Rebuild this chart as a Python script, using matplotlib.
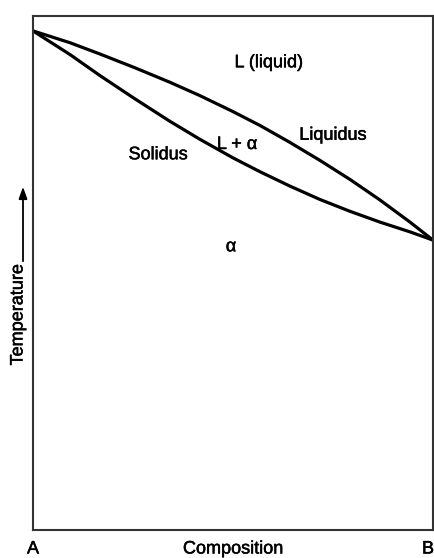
import matplotlib
matplotlib.use("Agg")
import matplotlib.pyplot as plt
import matplotlib.patheffects as pe
from matplotlib.patches import FancyArrowPatch

plt.rcParams['font.family'] = ['Liberation Sans', 'DejaVu Sans']

# Data (composition, 0 = pure A, 100 = pure B; temperature in arbitrary 0-100 units)
liquidus_x = [0, 9.25, 16.75, 25.25, 34.25, 41.75, 50.0, 56.75, 64.25, 71.75, 79.25, 86.75, 94.25, 100]
liquidus_t = [97.1, 94.8, 92.6, 90.0, 87.1, 84.5, 81.4, 78.7, 75.4, 71.9, 68.2, 64.2, 59.9, 56.4]
solidus_x = [0, 9.25, 16.75, 25.25, 34.25, 41.75, 50.0, 56.75, 64.25, 71.75, 79.25, 86.75, 94.25, 100]
solidus_t = [97.1, 92.5, 88.4, 84.0, 79.5, 76.0, 72.4, 69.7, 66.9, 64.3, 62.0, 59.9, 58.0, 56.4]

region_labels = ["L (liquid)", "Liquidus", "L + \u03b1", "Solidus", "\u03b1"]
region_x = [59.0, 75.0, 51.0, 31.3, 49.5]
region_t = [90.9, 76.8, 75.0, 73.0, 55.1]

W, H = 435, 558
fig = plt.figure(figsize=(W / 100, H / 100), dpi=100)
ax = fig.add_axes([33 / W, 1 - 530 / H, 400 / W, 514 / H])
ax.set_xlim(0, 100)
ax.set_ylim(0, 100)
ax.set_xticks([])
ax.set_yticks([])
for s in ax.spines.values():
    s.set_linewidth(1.5)
    s.set_color('#333333')

ax.plot(liquidus_x, liquidus_t, color='black', lw=2.3, solid_capstyle='round', solid_joinstyle='round')
ax.plot(solidus_x, solidus_t, color='black', lw=2.3, solid_capstyle='round', solid_joinstyle='round')

bold = [pe.withStroke(linewidth=0.35, foreground='black')]
fs = 13

for lab, x, t in zip(region_labels, region_x, region_t):
    ax.text(x, t, lab, ha='center', va='center', fontsize=fs, color='black', path_effects=bold)

def fx(px):
    return px / W

def fy(py):
    return 1 - py / H

fig.text(fx(33), fy(549), "A", ha='center', va='center', fontsize=fs, path_effects=bold)
fig.text(fx(428), fy(549), "B", ha='center', va='center', fontsize=fs, path_effects=bold)
fig.text(fx(233), fy(549), "Composition", ha='center', va='center', fontsize=fs, path_effects=bold)
fig.text(fx(18), fy(315), "Temperature", ha='center', va='center', rotation=90, fontsize=fs,
         path_effects=bold)

arrow = FancyArrowPatch((fx(23), fy(264)), (fx(23), fy(184)), transform=fig.transFigure,
                        arrowstyle='-|>,head_length=7,head_width=2.5', color='black', lw=1.3,
                        mutation_scale=1)
fig.patches.append(arrow)

fig.savefig("out.png", dpi=100)
